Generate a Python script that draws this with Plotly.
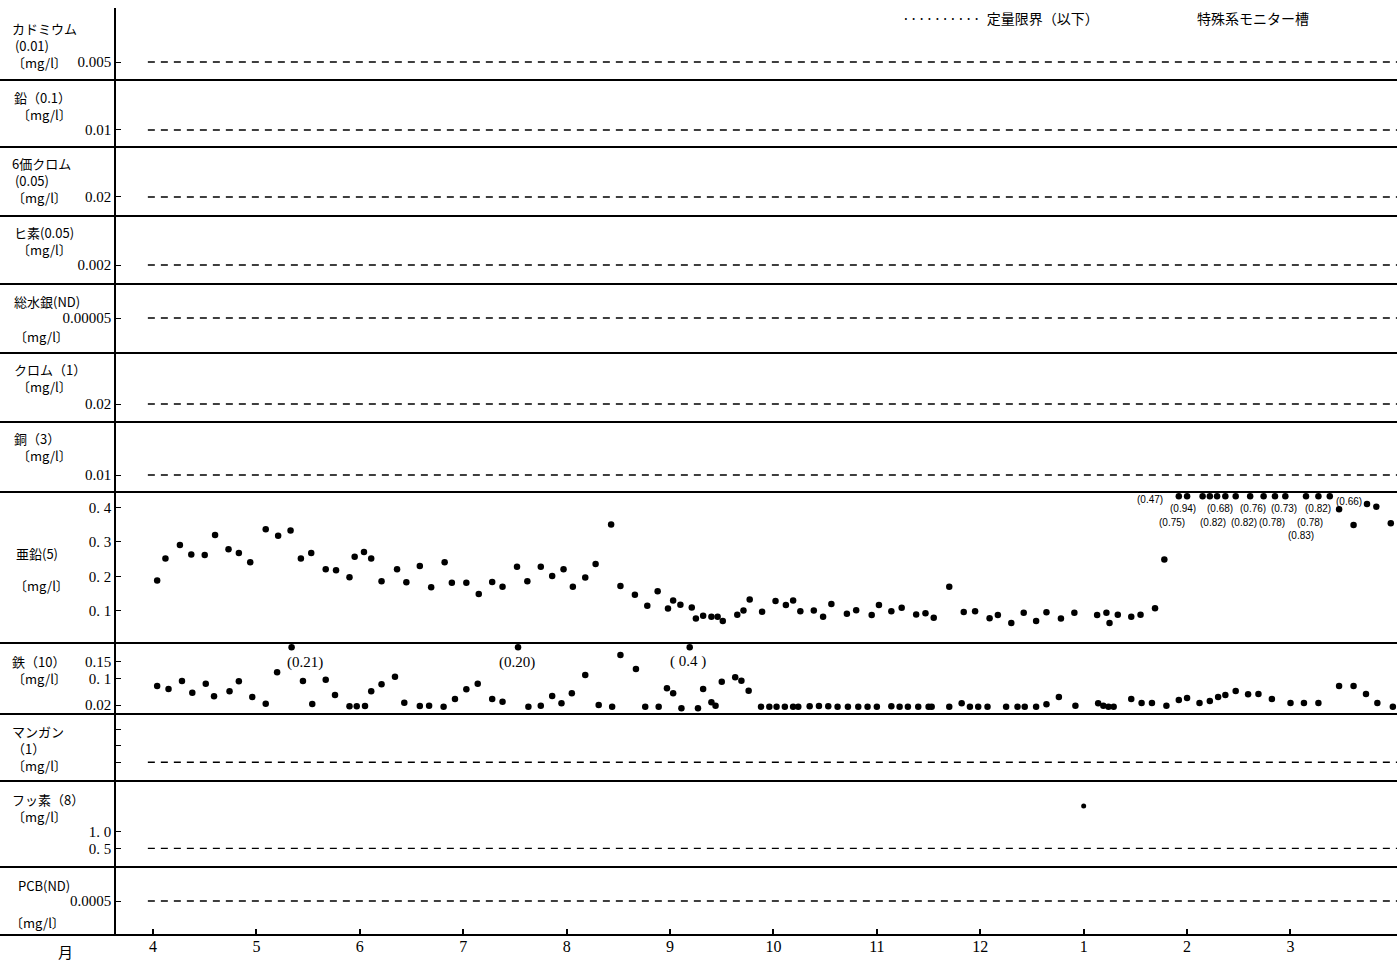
import numpy as np
import plotly.graph_objects as go

# ---------------- data ----------------
months = ["4", "5", "6", "7", "8", "9", "10", "11", "12", "1", "2", "3"]
month_pos = list(range(12))          # x = months elapsed since 1 April

# detection-limit (ND) levels per panel (None = no ND line)
nd_limits = [0.005, 0.01, 0.02, 0.002, 0.00005, 0.02, 0.01, None, None, 0.1, 0.5, 0.0005]
nd_span = [-0.05, 12.03]

# zinc (亜鉛)
zn_x = [0.04, 0.12, 0.26, 0.37, 0.50, 0.60, 0.73, 0.83, 0.94, 1.09, 1.21, 1.33, 1.43, 1.53, 1.67,
        1.77, 1.90, 1.95, 2.04, 2.11, 2.21, 2.36, 2.45, 2.58, 2.69, 2.82, 2.89, 3.03, 3.15, 3.28,
        3.38, 3.52, 3.62, 3.75, 3.86, 3.97, 4.06, 4.18, 4.28, 4.43, 4.52, 4.66, 4.78, 4.88, 4.98,
        5.03, 5.10, 5.21, 5.25, 5.32, 5.40, 5.46, 5.51, 5.65, 5.71, 5.77, 5.89, 6.02, 6.12, 6.19,
        6.26, 6.39, 6.48, 6.56, 6.71, 6.80, 6.95, 7.02, 7.14, 7.24, 7.38, 7.47, 7.55, 7.70, 7.84,
        7.95, 8.09, 8.17, 8.30, 8.42, 8.54, 8.64, 8.78, 8.91, 9.13, 9.22, 9.25, 9.33, 9.46, 9.55,
        9.69, 9.78, 9.92, 10.00, 10.15, 10.22, 10.29, 10.37, 10.47, 10.61, 10.74, 10.85, 10.95,
        11.15, 11.27, 11.38, 11.47, 11.61, 11.74, 11.83, 11.97]
zn_y = [0.188, 0.252, 0.291, 0.264, 0.262, 0.320, 0.279, 0.268, 0.241, 0.337, 0.318, 0.333, 0.252,
        0.268, 0.221, 0.218, 0.198, 0.257, 0.271, 0.252, 0.186, 0.221, 0.183, 0.230, 0.169, 0.241,
        0.182, 0.182, 0.149, 0.184, 0.170, 0.228, 0.186, 0.228, 0.201, 0.221, 0.170, 0.197, 0.236,
        0.351, 0.172, 0.147, 0.115, 0.157, 0.107, 0.130, 0.118, 0.110, 0.078, 0.086, 0.083, 0.083,
        0.071, 0.089, 0.101, 0.133, 0.098, 0.129, 0.117, 0.130, 0.099, 0.101, 0.083, 0.120, 0.092,
        0.102, 0.088, 0.117, 0.099, 0.109, 0.090, 0.093, 0.080, 0.170, 0.097, 0.099, 0.079, 0.088,
        0.065, 0.095, 0.071, 0.096, 0.078, 0.095, 0.088, 0.095, 0.065, 0.089, 0.083, 0.089, 0.108,
        0.249, 0.47, 0.75, 0.94, 0.82, 0.68, 0.82, 0.76, 0.78, 0.73, 0.83, 0.78, 0.82, 0.435, 0.66,
        0.395, 0.349, 0.410, 0.402, 0.354]
# label offsets (pixels) for the off-scale zinc values, in order of appearance
zn_label_shift = [(-29, -3), (-15, -26), (-20, -12), (3, -26), (3, -12), (19, -26), (17, -12),
                  (22, -26), (20, -12), (26, -39), (25, -26), (12, -12), (19, -5)]

# iron (鉄)
fe_x = [0.04, 0.15, 0.28, 0.38, 0.51, 0.59, 0.74, 0.83, 0.96, 1.09, 1.20, 1.34, 1.45, 1.54, 1.67,
        1.76, 1.90, 1.97, 2.05, 2.11, 2.21, 2.34, 2.43, 2.58, 2.67, 2.81, 2.92, 3.03, 3.14, 3.28,
        3.38, 3.53, 3.63, 3.75, 3.86, 3.95, 4.05, 4.18, 4.31, 4.44, 4.52, 4.67, 4.76, 4.89, 4.97,
        5.03, 5.11, 5.19, 5.27, 5.32, 5.40, 5.44, 5.50, 5.63, 5.69, 5.76,
        5.88, 5.96, 6.03, 6.11, 6.19, 6.24, 6.35, 6.44, 6.53, 6.62, 6.72, 6.82, 6.91, 7.00, 7.14,
        7.22, 7.30, 7.40, 7.50, 7.53, 7.70, 7.82, 7.90, 7.98, 8.07, 8.25, 8.36, 8.43, 8.54, 8.64,
        8.76, 8.92, 9.14, 9.19, 9.24, 9.29, 9.46, 9.56, 9.66, 9.80, 9.92, 10.00, 10.12, 10.22,
        10.30, 10.37, 10.47, 10.59, 10.69, 10.82, 11.00, 11.13, 11.27, 11.47, 11.61, 11.73, 11.84,
        11.99]
fe_y = [0.077, 0.068, 0.092, 0.057, 0.084, 0.046, 0.061, 0.091, 0.044, 0.024, 0.118, 0.21, 0.092,
        0.023, 0.096, 0.050, 0.016, 0.016, 0.017, 0.061, 0.082, 0.105, 0.027, 0.017, 0.018, 0.015,
        0.038, 0.067, 0.084, 0.038, 0.030, 0.20, 0.015, 0.018, 0.047, 0.025, 0.055, 0.110, 0.020,
        0.015, 0.170, 0.128, 0.015, 0.015, 0.070, 0.055, 0.010, 0.4, 0.010, 0.068, 0.028, 0.018,
        0.090, 0.103, 0.093, 0.063,
        0.015, 0.015, 0.015, 0.015, 0.015, 0.015, 0.016, 0.017, 0.016, 0.015, 0.015, 0.015, 0.015,
        0.015, 0.016, 0.015, 0.015, 0.015, 0.015, 0.015, 0.015, 0.025, 0.015, 0.015, 0.015, 0.015,
        0.015, 0.015, 0.015, 0.022, 0.044, 0.018, 0.025, 0.018, 0.015, 0.015, 0.038, 0.026, 0.026,
        0.018, 0.035, 0.041, 0.026, 0.032, 0.044, 0.050, 0.062, 0.052, 0.053, 0.038, 0.026, 0.026,
        0.026, 0.077, 0.077, 0.053, 0.026, 0.015]
fe_labels = ["(0.21)", "(0.20)", "( 0.4 )"]
fe_label_shift = [(13, -15), (-1, -15), (-2, -14)]

# fluorine (フッ素)
f_x = [9.00]
f_y = [1.77]

# left-hand panel labels: (text, left px, centre px)
labels = [
    ("カドミウム<br>&nbsp;(0.01)<br>〔mg/l〕", 10, 45),
    ("鉛（0.1）<br>&nbsp;〔mg/l〕", 12, 106),
    ("6価クロム<br>&nbsp;(0.05)<br>〔mg/l〕", 10, 181),
    ("ヒ素(0.05)<br>&nbsp;〔mg/l〕", 12, 241),
    ("総水銀(ND)", 12, 301), ("〔mg/l〕", 12, 337),
    ("クロム（1）<br>&nbsp;〔mg/l〕", 12, 378),
    ("銅（3）<br>&nbsp;〔mg/l〕", 12, 447),
    ("亜鉛(5)", 14, 553), ("〔mg/l〕", 12, 585),
    ("鉄（10）<br>〔mg/l〕", 10, 670),
    ("マンガン<br>（1）<br>〔mg/l〕", 10, 748),
    ("フッ素（8）<br>〔mg/l〕", 10, 808),
    ("PCB(ND)", 16, 885), ("〔mg/l〕", 8, 922),
]

# ---------------- layout constants ----------------
W, H = 1397, 961
ML, MR, MT, MB = 116, 0, 8, 26
PW, PH = W - ML - MR, H - MT - MB
edges_px = [8, 80, 147, 216, 284, 353, 422, 492, 643, 714, 781, 867, 935]

y_ranges = [[0, 0.02], [0, 0.0394], [0, 0.0726], [0, 0.00716], [0, 0.0000986], [0, 0.0767],
            [0, 0.0412], [0.007, 0.445], [-0.007, 0.206], [-0.0127, 0.391], [-0.06, 2.52],
            [0, 0.001]]
tick_vals = [[0.005], [0.01], [0.02], [0.002], [0.00005], [0.02], [0.01], [0.1, 0.2, 0.3, 0.4],
             [0.02, 0.1, 0.15], [0.1, 0.2, 0.3], [0.5, 1.0], [0.0005]]
tick_text = [["0.005"], ["0.01"], ["0.02"], ["0.002"], ["0.00005"], ["0.02"], ["0.01"],
             ["0. 1", "0. 2", "0. 3", "0. 4"], ["0.02", "0. 1", "0.15"], ["", "", ""],
             ["0. 5", "1. 0"], ["0.0005"]]

ZN_CAP = 0.433
FE_CAP = 0.193

SERIF = "Liberation Serif, Noto Sans CJK JP, serif"
LBL = "Noto Sans CJK JP, Liberation Serif, sans-serif"


def py(px):
    return (H - MB - px) / PH


def pxx(px):
    return (px - ML) / PW


fig = go.Figure()

n = len(edges_px) - 1
layout = dict(
    width=W, height=H, margin=dict(l=ML, r=MR, t=MT, b=MB),
    paper_bgcolor="white", plot_bgcolor="white", showlegend=False,
    xaxis=dict(range=[-0.358, 12.03], domain=[0, 1], anchor="y12", tickvals=month_pos,
               ticktext=months, ticks="inside", ticklen=6, tickwidth=1.5, tickcolor="black",
               showgrid=False, zeroline=False, showline=False,
               tickfont=dict(family=SERIF, size=16, color="black")),
)
for i in range(n):
    key = "yaxis" if i == 0 else f"yaxis{i + 1}"
    layout[key] = dict(
        domain=[py(edges_px[i + 1]), py(edges_px[i])], anchor="x", range=y_ranges[i],
        tickvals=tick_vals[i], ticktext=tick_text[i], ticks="inside", ticklen=5, tickwidth=1.2,
        tickcolor="black", showgrid=False, zeroline=False, showline=True, linecolor="black",
        linewidth=1.5, tickfont=dict(family=SERIF, size=15, color="black"),
    )
fig.update_layout(**layout)

# ND dashed lines
for i, lim in enumerate(nd_limits):
    if lim is None:
        continue
    yref = "y" if i == 0 else f"y{i + 1}"
    fig.add_trace(go.Scatter(x=nd_span, y=[lim, lim], mode="lines", xaxis="x", yaxis=yref,
                             line=dict(color="black", width=1.4, dash="7px,6px"),
                             hoverinfo="skip"))

marker = dict(color="black", size=6.5)
zn_plot = np.minimum(np.array(zn_y), ZN_CAP)
fig.add_trace(go.Scatter(x=zn_x, y=zn_plot, mode="markers", marker=marker, xaxis="x", yaxis="y8",
                         cliponaxis=False))
fe_plot = np.minimum(np.array(fe_y), FE_CAP)
fig.add_trace(go.Scatter(x=fe_x, y=fe_plot, mode="markers", marker=marker, xaxis="x", yaxis="y9",
                         cliponaxis=False))
fig.add_trace(go.Scatter(x=f_x, y=f_y, mode="markers", marker=dict(color="black", size=5),
                         xaxis="x", yaxis="y11"))

# labels for off-scale values
k = 0
for xv, v in zip(zn_x, zn_y):
    if v >= 0.45:
        dx, dy = zn_label_shift[k]
        fig.add_annotation(x=xv, y=ZN_CAP, xref="x", yref="y8", text=f"({v:.2f})", showarrow=False,
                           xshift=dx, yshift=dy,
                           font=dict(family="Liberation Sans", size=10, color="black"))
        k += 1
k = 0
for xv, v in zip(fe_x, fe_y):
    if v > FE_CAP:
        dx, dy = fe_label_shift[k]
        fig.add_annotation(x=xv, y=FE_CAP, xref="x", yref="y9", text=fe_labels[k], showarrow=False,
                           xshift=dx, yshift=dy, font=dict(family=SERIF, size=15, color="black"))
        k += 1

# panel separators (full width)
for i in range(n):
    yref = "y domain" if i == 0 else f"y{i + 1} domain"
    fig.add_shape(type="line", xref="paper", yref=yref, x0=pxx(0), x1=1, y0=0, y1=0,
                  line=dict(color="black", width=2))

for txt, lx, ly in labels:
    fig.add_annotation(x=pxx(lx), y=py(ly), xref="paper", yref="paper", text=txt, showarrow=False,
                       xanchor="left", yanchor="middle", align="left",
                       font=dict(family=LBL, size=13, color="black"))

fig.add_annotation(x=pxx(65), y=py(951), xref="paper", yref="paper", text="月", showarrow=False,
                   xanchor="center", yanchor="middle", font=dict(family=LBL, size=15, color="black"))
fig.add_annotation(x=pxx(900), y=py(18), xref="paper", yref="paper",
                   text="··········  定量限界（以下）", showarrow=False, xanchor="left",
                   yanchor="middle", font=dict(family=LBL, size=14, color="black"))
fig.add_annotation(x=pxx(1195), y=py(18), xref="paper", yref="paper", text="特殊系モニター槽",
                   showarrow=False, xanchor="left", yanchor="middle",
                   font=dict(family=LBL, size=14, color="black"))

fig.write_html("out.html", config={"displayModeBar": False},
               post_script="document.body.style.margin='0';")
